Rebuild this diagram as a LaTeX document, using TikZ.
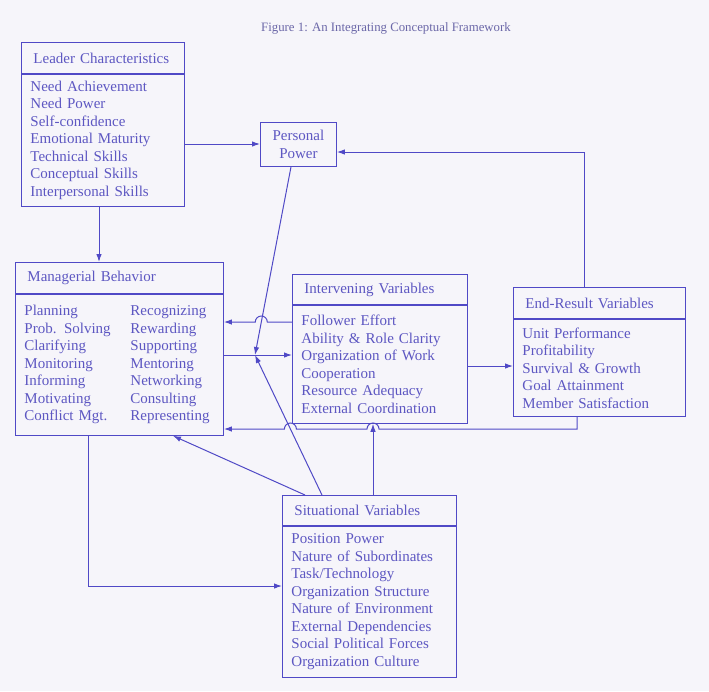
\documentclass[tikz,border=0pt]{standalone}
\usepackage{fontspec}
\setmainfont{Liberation Serif}
\usepackage{tikz}
\usetikzlibrary{arrows.meta, positioning}
\definecolor{fwpaper}{HTML}{F6F5FA}
\definecolor{fwline}{HTML}{5049C6}
\definecolor{fwtext}{HTML}{5D57C2}
\definecolor{fwtitle}{HTML}{6B67A8}

\begin{document}
\begin{tikzpicture}[
    x=1pt, y=-1pt,
    boxfont/.style={font=\fontsize{15}{17.5}\selectfont},
    boxhead/.style={rectangle, draw=fwline, line width=0.9pt, text=fwtext, boxfont,
                    anchor=north west, align=left, inner xsep=12pt, inner ysep=0pt},
    boxbody/.style={rectangle, draw=fwline, line width=0.9pt, text=fwtext, boxfont,
                    align=left, inner xsep=9pt, inner ysep=0pt},
    link/.style={draw=fwline, line width=1pt, -{Latex[length=8pt,width=5.5pt]}},
]
\fill[fwpaper] (0,0) rectangle (709,691);

\node[font=\fontsize{12.8}{15}\selectfont, text=fwtitle] (title) at (386,28)
    {Figure 1: An Integrating Conceptual Framework};

% boxes
\node[boxhead, text width=139pt, minimum height=31pt] (lchead) at (21,42) {Leader Characteristics};
\node[boxbody, text width=145pt, minimum height=132pt, below=0pt of lchead] (lcbody)
    {Need Achievement\\Need Power\\Self-confidence\\Emotional Maturity\\Technical Skills\\Conceptual Skills\\Interpersonal Skills};

\node[rectangle, draw=fwline, line width=0.9pt, text=fwtext, boxfont, align=center,
      minimum width=76pt, minimum height=44pt, anchor=north west] (pp) at (260,122)
    {Personal\\Power};

\node[boxhead, text width=184pt, minimum height=31pt] (mbhead) at (15,262) {Managerial Behavior};
\node[boxbody, text width=190pt, minimum height=141pt, below=0pt of mbhead] (mbbody)
    {\begin{tabular}{@{}p{106pt}@{}l@{}}
     Planning & Recognizing\\
     Prob. Solving & Rewarding\\
     Clarifying & Supporting\\
     Monitoring & Mentoring\\
     Informing & Networking\\
     Motivating & Consulting\\
     Conflict Mgt. & Representing
     \end{tabular}};

\node[boxhead, text width=151pt, minimum height=30pt] (ivhead) at (292,274) {Intervening Variables};
\node[boxbody, text width=157pt, minimum height=118pt, below=0pt of ivhead] (ivbody)
    {Follower Effort\\Ability \& Role Clarity\\Organization of Work\\Cooperation\\Resource Adequacy\\External Coordination};

\node[boxhead, text width=148pt, minimum height=31pt] (erhead) at (513,287) {End-Result Variables};
\node[boxbody, text width=154pt, minimum height=97pt, below=0pt of erhead] (erbody)
    {Unit Performance\\Profitability\\Survival \& Growth\\Goal Attainment\\Member Satisfaction};

\node[boxhead, text width=150pt, minimum height=30pt] (sithead) at (282,495) {Situational Variables};
\node[boxbody, text width=156pt, minimum height=151pt, below=0pt of sithead] (sitbody)
    {Position Power\\Nature of Subordinates\\Task/Technology\\Organization Structure\\Nature of Environment\\External Dependencies\\Social Political Forces\\Organization Culture};

\coordinate (mod) at (255,355);

% connectors
\draw[link] (lcbody.east |- 0,144) -- (pp.west |- 0,144);
\draw[link] (lcbody.south -| 99,0) -- (mbhead.north -| 99,0);
\draw[link] (erhead.north -| 584,0) -- (584,152) -- (pp.east |- 0,152);
\draw[link] (pp.south -| 291,0) -- (mod);
\draw[link] (mbbody.east |- mod) -- (ivbody.west |- mod);
\draw[link] (ivbody.west |- 0,322) -- (267.3,322)
    arc[start angle=0, end angle=-180, radius=6] -- (mbbody.east |- 0,322);
\draw[link] (ivbody.east |- 0,366) -- (erbody.west |- 0,366);
\draw[link] (sithead.north -| 322,0) -- (mod);
\draw[link] (sithead.north -| 373,0) -- (ivbody.south -| 373,0);
\draw[link] (sithead.north -| 305,0) -- (mbbody.south -| 173,0);
\draw[link] (erbody.south -| 577,0) -- (577,429) -- (379,429)
    arc[start angle=0, end angle=-180, radius=6] -- (296.4,429)
    arc[start angle=0, end angle=-180, radius=6] -- (mbbody.east |- 0,429);
\draw[link] (mbbody.south -| 88,0) -- (88,586) -- (sitbody.west |- 0,586);
\end{tikzpicture}
\end{document}
